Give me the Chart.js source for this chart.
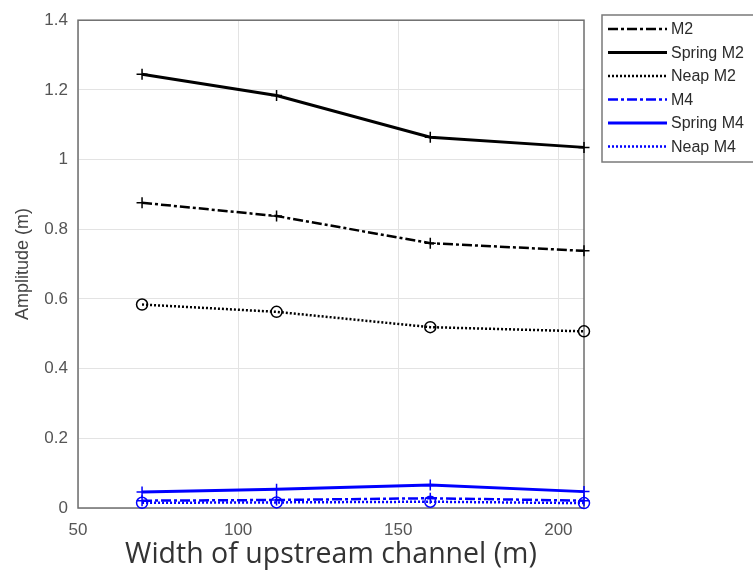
<!DOCTYPE html>
<html>
<head>
<meta charset="utf-8">
<script src="https://cdn.jsdelivr.net/npm/chart.js@4"></script>
<style>
  html, body { margin: 0; padding: 0; background: #fff; }
  #wrap { width: 753px; height: 574px; }
</style>
</head>
<body>
<div id="wrap"><canvas id="myLineChart" width="753" height="574"></canvas></div>
<script>
// channel widths (m)
const widths = [70, 112, 160, 208];

// amplitudes (m)
const m2 = [0.876, 0.838, 0.760, 0.738];
const springM2 = [1.245, 1.184, 1.064, 1.035];
const neapM2 = [0.584, 0.563, 0.519, 0.507];
const m4 = [0.021, 0.023, 0.028, 0.021];
const springM4 = [0.046, 0.054, 0.066, 0.047];
const neapM4 = [0.015, 0.016, 0.018, 0.014];

const xTicks = [50, 100, 150, 200];
const yTicks = [0, 0.2, 0.4, 0.6, 0.8, 1, 1.2, 1.4];

const BLUE = '#0000ff';
const BLACK = '#000000';
const DASHDOT = [10, 3, 3, 3];
const DOTTED = [2, 2];
const FONT = '"Liberation Sans", Arial, sans-serif';

function pts(arr) {
    return widths.map((w, i) => ({ x: w, y: arr[i] }));
}

function series(label, arr, color, dash, marker, lw) {
    return {
        label: label,
        data: pts(arr),
        borderColor: color,
        borderWidth: lw,
        borderDash: dash,
        pointStyle: marker,
        pointRadius: 5.5,
        pointBorderWidth: 1.5,
        pointBorderColor: color,
        pointBackgroundColor: 'rgba(0,0,0,0)',
        tension: 0,
        fill: false,
        clip: false
    };
}

// box round the plot area
const boxPlugin = {
    id: 'box',
    beforeDatasetsDraw(chart) {
        const a = chart.chartArea;
        const ctx = chart.ctx;
        ctx.save();
        ctx.strokeStyle = '#6e6e6e';
        ctx.lineWidth = 1.5;
        ctx.strokeRect(a.left, a.top, a.right - a.left, a.bottom - a.top);
        ctx.restore();
    }
};

// matlab style legend, drawn from the datasets
const legendPlugin = {
    id: 'matLegend',
    afterDraw(chart) {
        const ctx = chart.ctx;
        ctx.save();
        ctx.fillStyle = '#fff';
        ctx.fillRect(602, 15, 160, 147);
        ctx.strokeStyle = '#7a7a7a';
        ctx.lineWidth = 1.5;
        ctx.strokeRect(602, 15, 160, 147);
        chart.data.datasets.forEach((ds, i) => {
            const y = 29 + i * 23.5;
            ctx.strokeStyle = ds.borderColor;
            ctx.lineWidth = ds.borderWidth;
            ctx.setLineDash(ds.borderDash || []);
            ctx.beginPath();
            ctx.moveTo(608, y);
            ctx.lineTo(667, y);
            ctx.stroke();
            ctx.setLineDash([]);
            ctx.fillStyle = '#2b2b2b';
            ctx.font = '16px ' + FONT;
            ctx.textBaseline = 'middle';
            ctx.fillText(ds.label, 671, y + 1);
        });
        ctx.restore();
    }
};

const ctx = document.getElementById('myLineChart').getContext('2d');
new Chart(ctx, {
    type: 'line',
    data: {
        datasets: [
            series('M2', m2, BLACK, DASHDOT, 'cross', 2.5),
            series('Spring M2', springM2, BLACK, [], 'cross', 3),
            series('Neap M2', neapM2, BLACK, DOTTED, 'circle', 2.5),
            series('M4', m4, BLUE, DASHDOT, 'cross', 2.5),
            series('Spring M4', springM4, BLUE, [], 'cross', 3),
            series('Neap M4', neapM4, BLUE, DOTTED, 'circle', 2.5)
        ]
    },
    options: {
        responsive: false,
        animation: false,
        layout: { padding: { left: 0, right: 169, top: 15, bottom: 0 } },
        plugins: {
            legend: { display: false },
            tooltip: { enabled: false }
        },
        scales: {
            x: {
                type: 'linear',
                min: 50,
                max: 208,
                afterFit: (scale) => { scale.height = 66; },
                afterBuildTicks: (scale) => { scale.ticks = xTicks.map(v => ({ value: v })); },
                grid: { color: '#e3e3e3', drawTicks: false, lineWidth: 1 },
                border: { display: false },
                ticks: {
                    padding: 12,
                    color: '#555',
                    font: { family: FONT, size: 17 },
                    callback: (v) => String(v)
                },
                title: {
                    display: true,
                    text: 'Width of upstream channel (m)',
                    color: '#333',
                    font: { family: '"Open Sans", "Noto Sans", sans-serif', size: 28.5 },
                    padding: { top: 0, bottom: 2 }
                }
            },
            y: {
                min: 0,
                max: 1.4,
                afterFit: (scale) => { scale.width = 78; },
                afterBuildTicks: (scale) => { scale.ticks = yTicks.map(v => ({ value: v })); },
                grid: { color: '#e3e3e3', drawTicks: false, lineWidth: 1 },
                border: { display: false },
                ticks: {
                    padding: 10,
                    color: '#555',
                    font: { family: FONT, size: 17 },
                    callback: (v) => String(v)
                },
                title: {
                    display: true,
                    text: 'Amplitude (m)',
                    color: '#444',
                    font: { family: FONT, size: 18 },
                    padding: { top: 12, bottom: 0 }
                }
            }
        }
    },
    plugins: [boxPlugin, legendPlugin]
});
</script>
</body>
</html>
